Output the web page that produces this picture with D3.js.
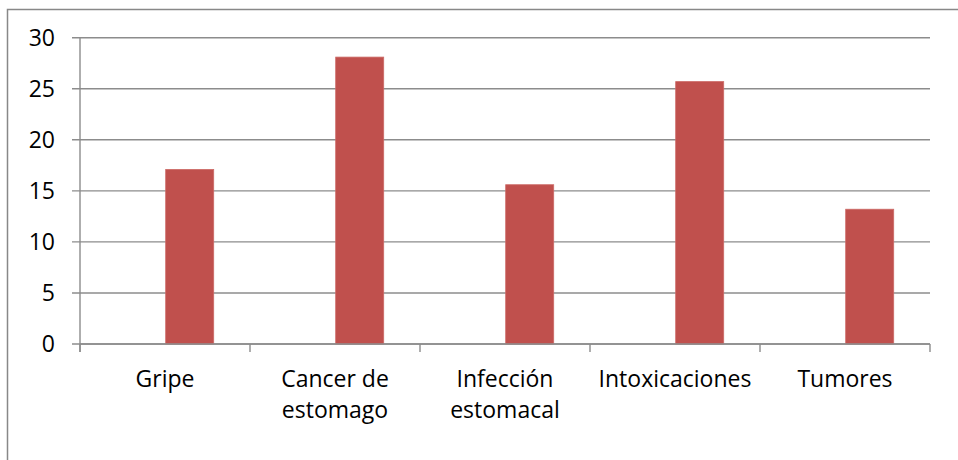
<!DOCTYPE html>
<html>
<head>
<meta charset="utf-8">
<script src="https://cdn.jsdelivr.net/npm/d3@7"></script>
<style>
  html, body { margin: 0; padding: 0; background: #fff; }
  svg { display: block; }
  text { font-family: "Open Sans", "Noto Sans", sans-serif; fill: #000; }
</style>
</head>
<body>
<script>
const categories = ["Gripe", "Cancer de estomago", "Infección estomacal", "Intoxicaciones", "Tumores"];
const labelLines = [["Gripe"], ["Cancer de", "estomago"], ["Infección", "estomacal"], ["Intoxicaciones"], ["Tumores"]];
const values = [17.1, 28.1, 15.6, 25.7, 13.2];
const yTicks = [0, 5, 10, 15, 20, 25, 30];

const W = 958, H = 460;
const svg = d3.select("body").append("svg").attr("width", W).attr("height", H);

// outer chart border (extends past right and bottom edges)
svg.append("rect")
  .attr("x", 7.5).attr("y", 9.5)
  .attr("width", 1000).attr("height", 500)
  .attr("fill", "none").attr("stroke", "#888").attr("stroke-width", 1.5);

const pLeft = 80, pRight = 930, pTop = 37.7, pBottom = 344;
const x = d3.scaleBand().domain(categories).range([pLeft, pRight]).padding(0);
const y = d3.scaleLinear().domain([0, 30]).range([pBottom, pTop]);

const gridColor = "#8c8c8c";

// gridlines
svg.append("g").selectAll("line").data(yTicks).join("line")
  .attr("x1", pLeft - 8).attr("x2", pRight)
  .attr("y1", d => y(d)).attr("y2", d => y(d))
  .attr("stroke", gridColor).attr("stroke-width", 1.4);

// y tick labels
svg.append("g").selectAll("text").data(yTicks).join("text")
  .attr("x", 55).attr("y", d => y(d)).attr("dy", "0.35em")
  .attr("text-anchor", "end").attr("font-size", 23)
  .text(d => d);

// bars (second slot of a two-bar group; first slot empty)
const bw = x.bandwidth() * 0.2824;
svg.append("g").selectAll("rect").data(values).join("rect")
  .attr("x", (d, i) => x(categories[i]) + x.bandwidth() / 2 + 0.7)
  .attr("y", d => y(d))
  .attr("width", bw)
  .attr("height", d => y(0) - y(d))
  .attr("fill", "#c0504d")
  .attr("stroke", "#cc6a67").attr("stroke-width", 0.8);

// y axis line
svg.append("line")
  .attr("x1", pLeft).attr("x2", pLeft)
  .attr("y1", pTop).attr("y2", pBottom + 8)
  .attr("stroke", gridColor).attr("stroke-width", 1.4);

// x axis line + ticks at category boundaries
svg.append("line")
  .attr("x1", pLeft).attr("x2", pRight)
  .attr("y1", pBottom).attr("y2", pBottom)
  .attr("stroke", gridColor).attr("stroke-width", 1.4);
const bounds = categories.map(c => x(c)).concat([pRight]);
svg.append("g").selectAll("line").data(bounds).join("line")
  .attr("x1", d => d).attr("x2", d => d)
  .attr("y1", pBottom).attr("y2", pBottom + 8)
  .attr("stroke", gridColor).attr("stroke-width", 1.4);

// category labels
const lbl = svg.append("g").selectAll("text").data(categories).join("text")
  .attr("text-anchor", "middle").attr("font-size", 23)
  .attr("x", d => x(d) + x.bandwidth() / 2)
  .attr("y", 387);
lbl.each(function(d, i) {
  const t = d3.select(this);
  labelLines[i].forEach((ln, k) => {
    t.append("tspan").attr("x", x(d) + x.bandwidth() / 2).attr("dy", k === 0 ? 0 : 31).text(ln);
  });
});
</script>
</body>
</html>
